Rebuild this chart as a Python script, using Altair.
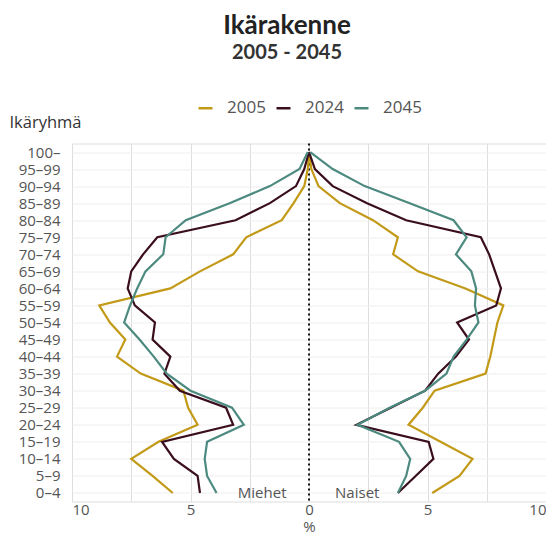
import altair as alt
import pandas as pd

ages = ["0–4", "5–9", "10–14", "15–19", "20–24", "25–29", "30–34", "35–39",
        "40–44", "45–49", "50–54", "55–59", "60–64", "65–69", "70–74",
        "75–79", "80–84", "85–89", "90–94", "95–99", "100–"]
years = ["2005", "2024", "2045"]

men_2005 = [5.75, 6.6, 7.5, 6.35, 4.7, 5.1, 5.3, 7.1, 8.1, 7.75, 8.4, 8.85,
            5.85, 4.6, 3.2, 2.65, 1.15, 0.65, 0.2, 0.05, 0.0]
women_2005 = [5.2, 6.35, 6.9, 5.55, 4.2, 4.8, 5.3, 7.45, 7.65, 7.8, 7.95, 8.2,
              6.6, 4.6, 3.55, 3.75, 2.7, 1.3, 0.4, 0.1, 0.0]
men_2024 = [4.6, 4.7, 5.7, 6.2, 3.2, 3.5, 5.45, 6.1, 5.85, 6.6, 6.5, 7.35,
            7.65, 7.5, 7.0, 6.4, 3.1, 1.65, 0.55, 0.2, 0.0]
women_2024 = [3.75, 4.5, 5.25, 5.05, 2.0, 3.45, 4.9, 5.45, 6.2, 6.75, 6.25, 7.9,
              8.1, 7.85, 7.6, 7.25, 4.1, 2.45, 1.0, 0.25, 0.0]
men_2045 = [3.9, 4.3, 4.4, 4.3, 2.75, 3.25, 5.0, 6.0, 6.55, 7.15, 7.8, 7.55,
            7.25, 6.9, 6.15, 6.05, 5.2, 3.35, 1.65, 0.4, 0.05]
women_2045 = [3.75, 4.1, 4.27, 3.8, 2.05, 3.4, 4.9, 5.8, 6.1, 6.65, 7.15, 7.0,
              7.05, 6.85, 6.2, 6.65, 6.1, 4.25, 2.35, 1.0, 0.05]

colors = ["#c29a17", "#3a0e1e", "#4c8a80"]
x_ticks = [-10, -7.5, -5, -2.5, 0, 2.5, 5, 7.5, 10]

series = {"2005": (men_2005, women_2005),
          "2024": (men_2024, women_2024),
          "2045": (men_2045, women_2045)}
rows = []
for yr in years:
    men, women = series[yr]
    for i, (a, m, w) in enumerate(zip(ages, men, women)):
        rows.append({"year": yr, "side": "men", "age": a, "idx": i, "value": -m})
        rows.append({"year": yr, "side": "women", "age": a, "idx": i, "value": w})
df = pd.DataFrame(rows)

FONT = "Open Sans"
xscale = alt.Scale(domain=[-10, 10], nice=False, zero=False)
yscale = alt.Scale(type="point", domain=ages[::-1], padding=0.5)

lines = alt.Chart(df).mark_line(strokeWidth=2.2).encode(
    x=alt.X("value:Q", scale=xscale,
            axis=alt.Axis(values=x_ticks, title="%",
                          labelExpr="datum.value % 5 == 0 ? format(abs(datum.value), 'd') : ''",
                          labelOverlap=False, domain=False, ticks=False,
                          grid=True, gridColor="#dedede", gridWidth=1,
                          labelFont=FONT, labelFontSize=15, labelColor="#555555",
                          labelPadding=1, titleFont=FONT, titleFontSize=15,
                          titleColor="#555555", titleFontWeight="normal",
                          titlePadding=2)),
    y=alt.Y("age:N", scale=yscale,
            axis=alt.Axis(title="Ikäryhmä", titleAngle=0, titleAlign="left",
                          titleBaseline="middle", titleX=-63, titleY=-21,
                          titleFont=FONT, titleFontSize=16.5, titleColor="#333333",
                          titleFontWeight="normal",
                          domain=False, ticks=False, grid=True,
                          gridColor="#eeeeee", gridWidth=1,
                          labelFont=FONT, labelFontSize=15, labelColor="#555555",
                          labelPadding=12)),
    color=alt.Color("year:N", scale=alt.Scale(domain=years, range=colors),
                    legend=alt.Legend(title=None, orient="none", direction="horizontal",
                                      legendX=125, legendY=-44,
                                      symbolType="stroke", symbolSize=196,
                                      symbolStrokeWidth=2.5, labelFont=FONT,
                                      labelFontSize=17, labelColor="#555555",
                                      columnPadding=5, labelOffset=13)),
    detail="side:N",
    order="idx:Q",
)

zero_df = pd.DataFrame({"value": [0]})
zero_rule = alt.Chart(zero_df).mark_rule(
    color="#111111", strokeWidth=2, strokeDash=[2, 3]
).encode(x=alt.X("value:Q", scale=xscale))

men_df = pd.DataFrame({"value": [-0.95], "age": ["0–4"], "label": ["Miehet"]})
women_df = pd.DataFrame({"value": [1.1], "age": ["0–4"], "label": ["Naiset"]})
men_text = alt.Chart(men_df).mark_text(
    align="right", baseline="middle", font=FONT, fontSize=15, color="#555555"
).encode(x=alt.X("value:Q", scale=xscale), y=alt.Y("age:N", scale=yscale), text="label:N")
women_text = alt.Chart(women_df).mark_text(
    align="left", baseline="middle", font=FONT, fontSize=15, color="#555555"
).encode(x=alt.X("value:Q", scale=xscale), y=alt.Y("age:N", scale=yscale), text="label:N")

chart = alt.layer(zero_rule, lines, men_text, women_text).properties(
    width=474, height=358,
    autosize=alt.AutoSizeParams(type="none"),
    padding={"left": 64, "top": 135.5, "right": 0, "bottom": 34.5},
    title=alt.TitleParams(text="Ikärakenne", subtitle="2005 - 2045",
                          anchor="middle", frame="group", dx=-22,
                          font="Lato", fontSize=26, fontWeight="bold", color="#222222",
                          subtitleFont="Lato", subtitleFontSize=20,
                          subtitleFontWeight="bold", subtitleColor="#333333",
                          subtitlePadding=4, offset=37),
).configure_view(stroke=None).configure(background="white")

chart.save("out.html", embed_options={"renderer": "svg", "actions": False})
